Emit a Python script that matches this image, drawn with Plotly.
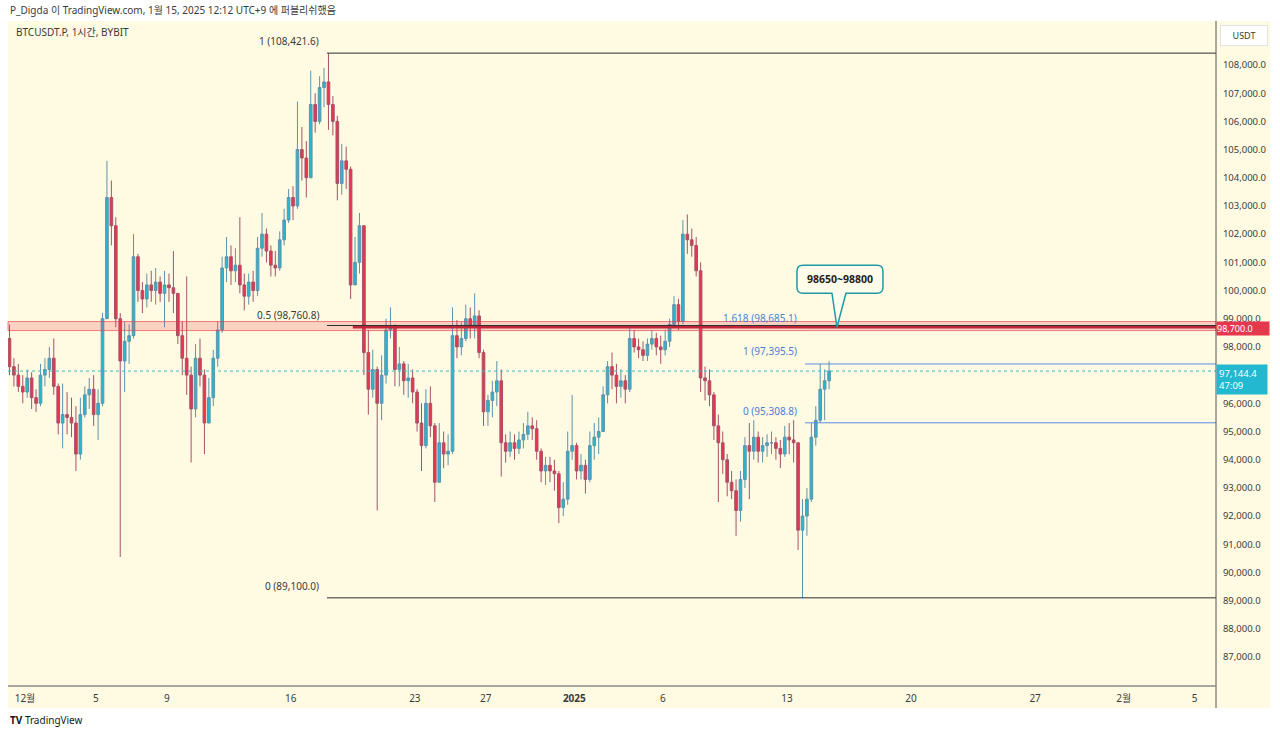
import pandas as pd
import plotly.graph_objects as go

first_open = 98300
close = [97300, 97000, 96600, 96400,
         96900, 96200, 96000, 97000,
         97200, 97600, 96600, 95300,
         95600, 95500, 95300, 94200,
         95600, 96300, 96500, 95600,
         96000, 99000, 103300, 102300,
         99000, 97500, 98200, 98400,
         101200, 100000, 99700, 100200,
         100000, 100300, 99900, 100200,
         100100, 99900, 98400, 97600,
         97000, 95800, 97600, 97000,
         95300, 96200, 97600, 98600,
         100800, 101200, 100700, 100900,
         100200, 99800, 100300, 100000,
         101500, 102000, 101400, 100900,
         100800, 101800, 102500, 103300,
         103000, 105000, 104700, 104000,
         106600, 106000, 107200, 107400,
         106600, 106000, 103800, 104600,
         104300, 100200, 101000, 102300,
         97800, 96500, 97200, 96000,
         97000, 98600, 98700, 97200,
         97400, 96800, 96900, 96400,
         95300, 94500, 96000, 95200,
         93200, 94600, 94200, 94300,
         98400, 98000, 98300, 99000,
         98700, 99100, 97800, 95700,
         96100, 96400, 96800, 94600,
         94300, 94600, 94400, 94700,
         94900, 95200, 95100, 94300,
         93600, 93800, 93600, 93500,
         92300, 92600, 94300, 94500,
         93600, 93800, 93300, 94500,
         94800, 95000, 96300, 97300,
         97000, 96600, 96800, 96500,
         98300, 98000, 97900, 97700,
         98100, 98300, 98000, 97900,
         98200, 98800, 99500, 98900,
         102000, 101800, 101600, 100700,
         96900, 96800, 96300, 95200,
         94600, 94000, 93200, 92900,
         92200, 93300, 94500, 94300,
         94800, 94300, 94500, 94600,
         94600, 94400, 94200, 94800,
         94700, 94600, 91500, 92000,
         92600, 94800, 95400, 96500,
         96800, 97144.4]
high = [98800, 97600, 97400, 97000,
        97200, 97100, 96500, 97400,
        97600, 98000, 98300, 96700,
        96700, 96400, 96200, 95900,
        96200, 96600, 96900, 97000,
        96500, 99200, 104600, 103900,
        102600, 99200, 98900, 98800,
        102000, 101300, 100300, 100600,
        100700, 100800, 100500, 100700,
        100600, 101400, 99900, 98900,
        100500, 97300, 98100, 98300,
        97200, 96900, 97900, 98900,
        101200, 101900, 101600, 101500,
        102600, 100600, 100600, 100700,
        101900, 102750, 102200, 101600,
        101400, 102100, 102900, 103600,
        103700, 106700, 105800, 105300,
        107800, 107000, 107600, 107900,
        108421.6, 106900, 106200, 105200,
        105100, 104400, 101900, 102750,
        102300, 98600, 97900, 97300,
        97700, 99000, 99400, 98800,
        98000, 97500, 97400, 97200,
        96500, 96000, 96500, 96600,
        95300, 95300, 95000, 94900,
        99400, 98950, 98900, 99500,
        99400, 99900, 99300, 97900,
        96300, 96800, 97500, 97200,
        94900, 95000, 94900, 95000,
        95300, 95700, 95500, 95400,
        94400, 94100, 94100, 94000,
        93600, 93200, 95000, 96300,
        94600, 94200, 94000, 95000,
        95300, 95500, 96600, 97500,
        97800, 97400, 97200, 97000,
        98700, 98600, 98300, 98200,
        98300, 98600, 98500, 98400,
        98600, 99000, 99800, 99700,
        102500, 102700, 102200, 101900,
        101000, 97300, 97200, 96400,
        95600, 95000, 94200, 93600,
        93300, 93600, 94800, 95300,
        95400, 95000, 94800, 94900,
        95000, 94800, 94700, 95200,
        95300, 95400, 94600, 92600,
        93000, 95300, 95900, 97395.5,
        97200, 97500]
low = [97000, 96600, 96400, 96000,
       96200, 95800, 95700, 95900,
       96600, 96900, 96300, 94900,
       94400, 94900, 94800, 93600,
       94000, 95500, 95800, 95200,
       94700, 95900, 99000, 101600,
       98700, 90550, 96400, 97400,
       98300, 99600, 99200, 99400,
       99600, 99500, 99600, 98700,
       99600, 99200, 98100, 97000,
       96300, 93900, 95500, 96600,
       94200, 95300, 95900, 97300,
       98500, 100300, 100200, 100300,
       99900, 99300, 99500, 99600,
       99800, 101200, 101000, 100500,
       100500, 100700, 101600, 102400,
       102500, 102900, 103900, 103300,
       104000, 105600, 105900, 106500,
       105700, 105500, 103200, 103400,
       103600, 99700, 100300, 100600,
       97000, 95600, 96200, 92200,
       95400, 96700, 98300, 96600,
       96600, 96300, 96200, 96000,
       95000, 93600, 94400, 94800,
       92500, 93200, 93700, 93800,
       94200, 97600, 97700, 98200,
       98300, 98300, 97600, 95200,
       95200, 95500, 95900, 93400,
       93900, 94100, 94000, 94200,
       94400, 94700, 94700, 94000,
       93200, 93100, 93200, 92900,
       91750, 92000, 92400, 94000,
       93300, 93300, 92800, 93200,
       94000, 94200, 95000, 96000,
       96500, 96000, 96200, 96000,
       96400, 97800, 97600, 97500,
       97500, 97900, 97700, 97400,
       97700, 98000, 98700, 98600,
       98800, 101300, 101200, 100500,
       96400, 96100, 95900, 94700,
       92500, 93500, 92700, 92600,
       91300, 91800, 93000, 92600,
       94000, 93900, 93900, 94100,
       94200, 94000, 93700, 94100,
       94200, 93900, 90800, 89100,
       91300, 92500, 94500, 95308.8,
       95400, 96500]
open_ = [first_open] + close[:-1]
times = pd.date_range("2024-11-30 03:00", periods=len(close), freq="6h")

# price axis labels (97,000 is hidden behind the last-price tag in the original)
price_ticks = list(range(87000, 108001, 1000))
price_text = ["" if v == 97000 else f"{v:,.1f}" for v in price_ticks]

# time axis labels
date_ticks = ["2024-12-01", "2024-12-05", "2024-12-09", "2024-12-16", "2024-12-23",
              "2024-12-27", "2025-01-01", "2025-01-06", "2025-01-13", "2025-01-20",
              "2025-01-27", "2025-02-01", "2025-02-05"]
date_text = ["12월", "5", "9", "16", "23", "27", "<b>2025</b>", "6", "13", "20", "27", "2월", "5"]

# drawn levels
fib_left = [108421.6, 98760.8, 89100.0]
fib_left_text = ["1 (108,421.6)", "0.5 (98,760.8)", "0 (89,100.0)"]
fib_right = [98685.1, 97395.5, 95308.8]
fib_right_text = ["1.618 (98,685.1)", "1 (97,395.5)", "0 (95,308.8)"]
zone_low, zone_high = 98580, 98900
level_line = 98700.0
last_price = 97144.4
countdown = "47:09"
callout_text = "98650~98800"

X_START, X_END = "2024-11-30 01:00", "2025-02-06 05:00"
FIB_L_START = "2024-12-18 01:00"
RED_START = "2024-12-19 12:00"
FIB_R_START = "2025-01-14 00:30"
CALLOUT_TIP = "2025-01-15 19:40"

BG = "#fffbe2"
UP, UP_LINE = "#2ab7cc", "#5d93ad"
DN, DN_LINE = "#e8364e", "#a8506a"
TXT = "#3a3a3a"
FONT = "Noto Sans, Noto Sans CJK KR, sans-serif"

fig = go.Figure(go.Candlestick(
    x=times, open=open_, high=high, low=low, close=close,
    increasing=dict(fillcolor=UP, line=dict(color=UP_LINE, width=1)),
    decreasing=dict(fillcolor=DN, line=dict(color=DN_LINE, width=1)),
    whiskerwidth=0, hoverinfo="skip", showlegend=False))

shapes = []
# yellow chart container (includes axis strips)
shapes.append(dict(type="rect", xref="paper", yref="paper", x0=0, x1=1.0447, y0=-0.0331, y1=1.0015,
                   fillcolor=BG, line=dict(width=0), layer="below"))
# support zone
shapes.append(dict(type="rect", xref="paper", yref="y", x0=0, x1=1, y0=zone_low, y1=zone_high,
                   fillcolor="rgba(242,54,69,0.20)", line=dict(color="rgba(235,60,80,0.65)", width=1)))
# left fib
for v in fib_left:
    shapes.append(dict(type="line", xref="x", yref="y", x0=FIB_L_START, x1=X_END, y0=v, y1=v,
                       line=dict(color="#2e2e2e", width=1)))
# right fib
for v in fib_right:
    shapes.append(dict(type="line", xref="x", yref="y", x0=FIB_R_START, x1=X_END, y0=v, y1=v,
                       line=dict(color="#5b8be0", width=1)))
# red horizontal ray
shapes.append(dict(type="line", xref="x", yref="y", x0=RED_START, x1=X_END, y0=level_line, y1=level_line,
                   line=dict(color="#c0263a", width=2.5)))
# last price dotted line
shapes.append(dict(type="line", xref="paper", yref="y", x0=0, x1=1, y0=last_price, y1=last_price,
                   line=dict(color="#3bb9cc", width=1, dash="dot")))
# callout bubble
shapes.append(dict(type="path", xref="x", yref="y", xsizemode="pixel", ysizemode="pixel",
                   xanchor=CALLOUT_TIP, yanchor=level_line,
                   path="M -34,34 L -5,34 L 0,0 L 9,34 L 40,34 Q 46,34 46,40 L 46,56 Q 46,62 40,62 "
                        "L -34,62 Q -40,62 -40,56 L -40,40 Q -40,34 -34,34 Z",
                   fillcolor="#fffdea", line=dict(color="#1f9aa5", width=1.5)))
# axis separators
shapes.append(dict(type="line", xref="paper", yref="paper", x0=1, x1=1, y0=-0.0331, y1=1.0015,
                   line=dict(color="#555555", width=1)))
shapes.append(dict(type="line", xref="paper", yref="paper", x0=0, x1=1, y0=0, y1=0,
                   line=dict(color="#8a8a8a", width=1.5)))

ann = []
for v, t, ys in zip(fib_left, fib_left_text, [3, 1, 3]):
    ann.append(dict(x=FIB_L_START, y=v, xref="x", yref="y", text=t, showarrow=False,
                    xanchor="right", yanchor="bottom", xshift=-6, yshift=ys,
                    font=dict(size=10, color=TXT, family=FONT)))
for v, t, ys in zip(fib_right, fib_right_text, [1, 4, 3]):
    ann.append(dict(x=FIB_R_START, y=v, xref="x", yref="y", text=t, showarrow=False,
                    xanchor="right", yanchor="bottom", xshift=-6, yshift=ys,
                    font=dict(size=10, color="#4a7fd6", family=FONT)))
ann.append(dict(x=CALLOUT_TIP, y=level_line, xref="x", yref="y", text=f"<b>{callout_text}</b>",
                showarrow=False, xshift=3, yshift=48, font=dict(size=10.5, color="#222222", family=FONT)))
# price scale labels
ann.append(dict(x=1, y=level_line, xref="paper", yref="y", text=f"{level_line:,.1f}", showarrow=False,
                xanchor="left", yanchor="middle", yshift=-1, bgcolor="#e5374d", borderpad=0, width=52,
                align="left", font=dict(size=9, color="white", family=FONT)))
ann.append(dict(x=1, y=last_price, xref="paper", yref="y", text=f"{last_price:,.1f}<br>{countdown}",
                showarrow=False, xanchor="left", yanchor="top", yshift=7, bgcolor="#22b8d0", borderpad=2,
                width=46, align="left", font=dict(size=9.5, color="white", family=FONT)))
ann.append(dict(x=1.0232, y=0.9804, xref="paper", yref="paper", xanchor="center", yanchor="middle",
                text="USDT", showarrow=False,
                bgcolor="white", bordercolor="#e3e3e3", borderwidth=1, borderpad=3, width=40,
                font=dict(size=9, color=TXT, family=FONT)))
# headers
ann.append(dict(x=0, y=1.018, xref="paper", yref="paper", xanchor="left", yanchor="middle", showarrow=False,
                text="P_Digda 이 TradingView.com, 1월 15, 2025 12:12 UTC+9 에 퍼블리쉬했음",
                font=dict(size=10, color=TXT, family=FONT)))
ann.append(dict(x=0.005, y=0.985, xref="paper", yref="paper", xanchor="left", yanchor="middle", showarrow=False,
                text="BTCUSDT.P, 1시간, BYBIT", font=dict(size=10, color=TXT, family=FONT)))
ann.append(dict(x=0, y=-0.0512, xref="paper", yref="paper", xanchor="left", yanchor="middle", showarrow=False,
                text="<b>TV</b> TradingView", font=dict(size=10, color="#131722", family=FONT)))

fig.update_layout(
    width=1280, height=735,
    margin=dict(l=8, r=64, t=22, b=49),
    paper_bgcolor="white", plot_bgcolor=BG,
    shapes=shapes, annotations=ann,
    boxgap=0.15,
    xaxis=dict(type="date", range=[X_START, X_END], rangeslider=dict(visible=False),
               tickvals=date_ticks, ticktext=date_text, showgrid=False, zeroline=False,
               ticks="outside", ticklen=3, tickcolor="rgba(0,0,0,0)",
               tickfont=dict(size=10, color=TXT, family=FONT)),
    yaxis=dict(side="right", range=[85973, 109525], tickvals=price_ticks, ticktext=price_text,
               showgrid=False, zeroline=False, ticks="outside", ticklen=4, tickcolor="rgba(0,0,0,0)",
               tickfont=dict(size=9.5, color=TXT, family=FONT)),
    font=dict(family=FONT),
)

fig.write_html("out.html", config={"displayModeBar": False},
               post_script="document.body.style.margin='0px';")
